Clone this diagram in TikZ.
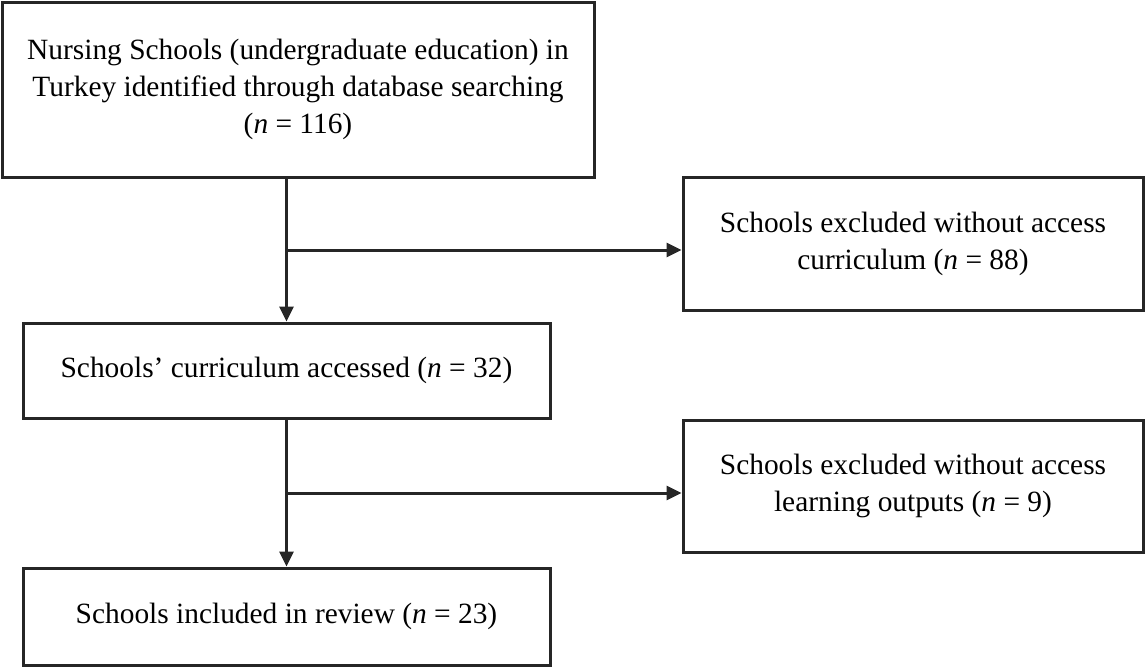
\documentclass[tikz,border=0pt]{standalone}
\usepackage{fontspec}
\setmainfont{Liberation Serif}
\usetikzlibrary{arrows.meta}
\begin{document}
\begin{tikzpicture}[x=0.5pt,y=-0.5pt,
  box/.style={draw=black!85, line width=1.5pt, align=center, inner sep=0pt,
    font=\fontsize{14.7pt}{18.5pt}\selectfont},
  conn/.style={draw=black!85, line width=1.5pt, -{Triangle[length=7.5pt,width=7pt]}}]
\useasboundingbox (0,0) rectangle (1146,666);
\node[box, minimum width=296pt, minimum height=87.5pt] (box1) at (298,89.5)
  {Nursing Schools (undergraduate education) in\\Turkey identified through database searching\\(\textit{n} = 116)};
\node[box, minimum width=230pt, minimum height=66.5pt] (box2) at (913,243.5)
  {Schools excluded without access\\curriculum (\textit{n} = 88)};
\node[box, minimum width=263.5pt, minimum height=47.5pt] (box3) at (286.5,370.5)
  {Schools’ curriculum accessed (\textit{n} = 32)};
\node[box, minimum width=230pt, minimum height=66pt] (box4) at (913,486)
  {Schools excluded without access\\learning outputs (\textit{n} = 9)};
\node[box, minimum width=263.5pt, minimum height=48.5pt] (box5) at (286.5,616.5)
  {Schools included in review (\textit{n} = 23)};
\coordinate (j1) at (286.5,250);
\coordinate (j2) at (286.5,493);
\draw[conn] (box3.north |- box1.south) -- (box3.north);
\draw[conn] (j1) -- (j1 -| box2.west);
\draw[conn] (box3.south) -- (box5.north);
\draw[conn] (j2) -- (j2 -| box4.west);
\end{tikzpicture}
\end{document}
